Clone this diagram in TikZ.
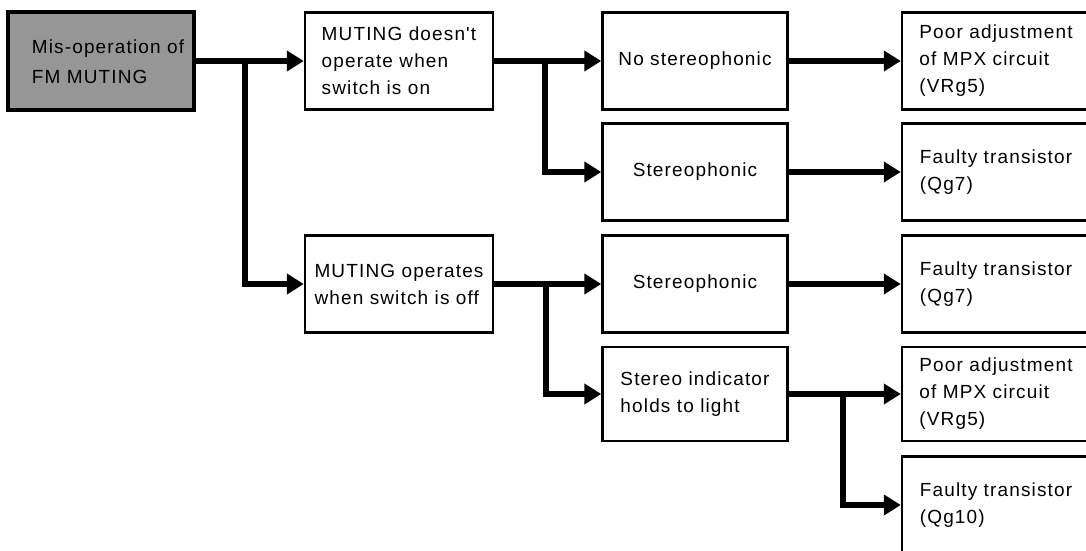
\documentclass[tikz,border=0pt]{standalone}
\usepackage{fontspec}
\newfontfamily\diagfont[LetterSpace=6]{Liberation Sans}
\usetikzlibrary{arrows.meta}
\definecolor{boxgray}{RGB}{150,150,150}
\tikzset{
  txt/.style={font=\diagfont\fontsize{19}{27}\selectfont, align=left, inner sep=0pt},
  box/.style={draw=black, line width=2.5pt, minimum width=188pt, minimum height=97pt, inner sep=0pt, txt},
  cbox/.style={box, minimum width=185pt},
  abox/.style={draw=black, line width=4pt, fill=boxgray, minimum width=186pt, minimum height=98pt, inner sep=0pt},
  arr/.style={line width=5.5pt, -{Triangle[length=17pt,width=20pt]}},
}
\begin{document}
\begin{tikzpicture}[x=1pt,y=-1pt]
\useasboundingbox (0,0) rectangle (1086,551);
% column A
\node[abox] (A) at (101,61) {};
\node[txt, font=\diagfont\fontsize{19}{30}\selectfont] (At) at ([xshift=7pt,yshift=-1pt]A.center) {Mis-operation of\\FM MUTING};
% column B
\node[box] (B1) at (399,61) {MUTING doesn't\\operate when\\switch is on};
\node[box] (B2) at (399,284) {MUTING operates\\when switch is off};
% column C
\node[cbox] (C1) at (695,61) {No stereophonic};
\node[cbox] (C2) at (695,172) {Stereophonic};
\node[cbox] (C3) at (695,284) {Stereophonic};
\node[cbox, minimum height=94pt] (C4) at (695,394) {Stereo indicator\\holds to light};
% column D
\node[box] (D1) at (996,61) {Poor adjustment\\of MPX circuit\\(VRg5)};
\node[box] (D2) at (996,172) {Faulty transistor\\(Qg7)};
\node[box] (D3) at (996,284) {Faulty transistor\\(Qg7)};
\node[box, minimum height=94pt] (D4) at (996,394) {Poor adjustment\\of MPX circuit\\(VRg5)};
\node[box] (D5) at (996,505) {Faulty transistor\\(Qg10)};
% junctions
\coordinate (jA) at (245,61);
\coordinate (jB) at (545,61);
\coordinate (jC) at (546,284);
\coordinate (jD) at (843,394);
% connectors
\draw[arr] (A.east) -- (B1.west);
\draw[arr] (jA) |- (B2.west);
\draw[arr] (B1.east) -- (C1.west);
\draw[arr] (jB) |- (C2.west);
\draw[arr] (B2.east) -- (C3.west);
\draw[arr] (jC) |- (C4.west);
\draw[arr] (C1.east) -- (D1.west);
\draw[arr] (C2.east) -- (D2.west);
\draw[arr] (C3.east) -- (D3.west);
\draw[arr] (C4.east) -- (D4.west);
\draw[arr] (jD) |- (D5.west);
\end{tikzpicture}
\end{document}
